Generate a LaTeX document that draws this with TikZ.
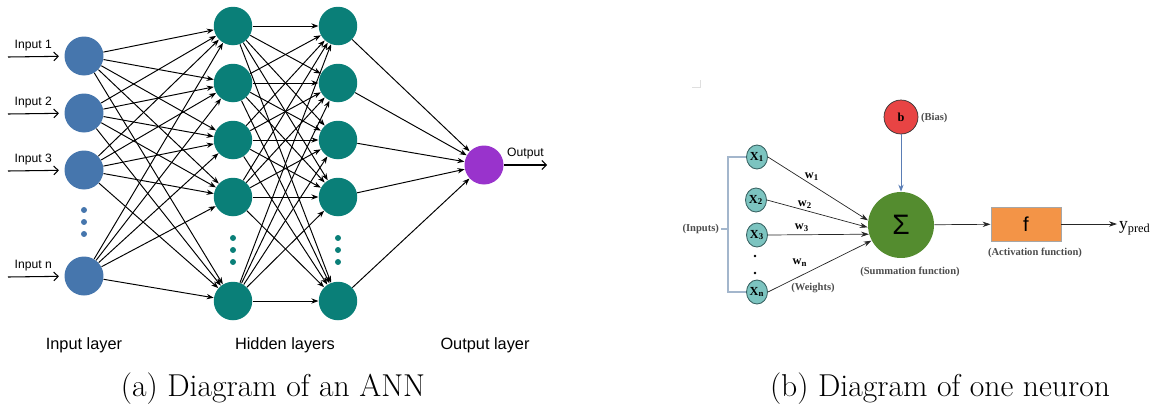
\documentclass[tikz,border=0pt]{standalone}
\usepackage{fontspec}
\newfontfamily\arialf{Liberation Sans}
\newfontfamily\serifb{Liberation Serif}
\usetikzlibrary{positioning,arrows.meta,shapes.geometric}

\definecolor{inblue}{HTML}{4676AD}
\definecolor{hidteal}{HTML}{0A7F78}
\definecolor{outpurple}{HTML}{9933CC}
\definecolor{xteal}{HTML}{7CC4C0}
\definecolor{xborder}{HTML}{3A6464}
\definecolor{sumgreen}{HTML}{548C2F}
\definecolor{biasred}{HTML}{E84444}
\definecolor{actorange}{HTML}{F39447}
\definecolor{brkblue}{HTML}{A3B6CC}
\definecolor{biasline}{HTML}{5A7DB5}

\begin{document}
\begin{tikzpicture}[x=0.02cm, y=-0.02cm,
  lbl/.style={font=\arialf\fontsize{6.9}{8}\selectfont, inner sep=1pt},
  layerlbl/.style={font=\arialf\fontsize{9.3}{11}\selectfont, inner sep=1pt},
  inv/.style={circle, fill=inblue, minimum size=0.78cm, inner sep=0pt},
  hidv/.style={circle, fill=hidteal, minimum size=0.77cm, inner sep=0pt},
  outv/.style={circle, fill=outpurple, minimum size=0.78cm, inner sep=0pt},
  netedge/.style={draw=black, line width=0.55pt, -{Stealth[length=4pt,width=3pt]}},
  ioarrow/.style={draw=black, line width=0.6pt, -{Straight Barb[length=2.5pt,width=5pt]}},
  xv/.style={ellipse, draw=xborder, line width=0.5pt, fill=xteal, minimum width=0.42cm, minimum height=0.48cm, inner sep=0pt, font=\serifb\bfseries\fontsize{7}{8}\selectfont},
  sumv/.style={circle, fill=sumgreen, minimum size=1.32cm, inner sep=0pt, font=\arialf\fontsize{16}{18}\selectfont},
  biasv/.style={circle, draw=black!80, line width=0.4pt, fill=biasred, minimum size=0.68cm, inner sep=0pt, font=\serifb\bfseries\fontsize{7}{8}\selectfont},
  actbox/.style={rectangle, draw=black!35, line width=0.5pt, fill=actorange, minimum width=1.4cm, minimum height=0.68cm, inner sep=0pt, font=\arialf\fontsize{11.5}{13}\selectfont},
  warrow/.style={draw=black!85, line width=0.4pt, -{Stealth[length=4.5pt,width=3pt]}},
  bracket/.style={draw=brkblue, line width=0.6pt},
  nlbl/.style={font=\serifb\bfseries\fontsize{6}{7}\selectfont, text=black!70, inner sep=1pt},
  wlbl/.style={font=\serifb\bfseries\fontsize{7}{8}\selectfont, inner sep=1pt},
  capt/.style={font=\fontsize{18}{21}\selectfont, inner sep=0pt}
]
\useasboundingbox (0,0) rectangle (1150,403);

% --- (a) ANN: input layer ---
\node[inv] (in1) at (84,56) {};
\node[inv] (in2) at (84,113) {};
\node[inv] (in3) at (84,170) {};
\node[inv] (inn) at (84,276) {};
\foreach \y in {210,222,234} \fill[inblue] (84,\y) circle (1.7pt);

% --- hidden layers ---
\foreach \k/\y in {1/26,2/83,3/140,4/197,5/301} {
  \node[hidv] (ha\k) at (233,\y) {};
  \node[hidv] (hb\k) at (338,\y) {};
}
\foreach \y in {238,250,262} {
  \fill[hidteal] (233,\y) circle (1.7pt);
  \fill[hidteal] (338,\y) circle (1.7pt);
}

% --- output ---
\node[outv] (out) at (484,165) {};

% --- connections ---
\foreach \i in {1,2,3,n}
  \foreach \j in {1,...,5} \draw[netedge] (in\i) -- (ha\j);
\foreach \i in {1,...,5}
  \foreach \j in {1,...,5} \draw[netedge] (ha\i) -- (hb\j);
\foreach \i in {1,...,5} \draw[netedge] (hb\i) -- (out);

% --- input / output arrows ---
\coordinate (src1) at (8,57);
\coordinate (src2) at (8,114);
\coordinate (src3) at (8,171);
\coordinate (srcn) at (8,277);
\draw[ioarrow, shorten >=3pt] (src1) -- (in1) node[lbl, pos=.45, above=2pt] (lin1) {Input 1};
\draw[ioarrow, shorten >=3pt] (src2) -- (in2) node[lbl, pos=.45, above=2pt] (lin2) {Input 2};
\draw[ioarrow, shorten >=3pt] (src3) -- (in3) node[lbl, pos=.45, above=2pt] (lin3) {Input 3};
\draw[ioarrow, shorten >=3pt] (srcn) -- (inn) node[lbl, pos=.45, above=2pt] (linn) {Input n};
\coordinate (dst) at (547,165);
\draw[ioarrow] (out) -- (dst) node[lbl, midway, above=2pt] (lout) {Output};

% --- layer labels ---
\node[layerlbl] (linput) at (84,345) {Input layer};
\node[layerlbl] (lhidden) at (285,345) {Hidden layers};
\node[layerlbl] (loutput) at (485,345) {Output layer};

% --- (b) one neuron ---
\draw[gray!25, line width=0.5pt] (692,87) -- (700,87) -- (700,80);

\node[xv] (x1) at (757,157) {X\textsubscript{1}};
\node[xv] (x2) at (756,200) {X\textsubscript{2}};
\node[xv] (x3) at (757,235) {X\textsubscript{3}};
\node[xv] (xn) at (757,292) {X\textsubscript{n}};
\foreach \y in {256,273} \fill[black] (755,\y) circle (0.8pt);

\node[sumv] (sum) at (901,225) {Σ};
\node[biasv] (b) at (901,117) {b};
\node[nlbl, anchor=west] (lbias) at (919,118) {(Bias)};
\node[actbox] (act) at (1026,224) {f};
\node[anchor=west, inner sep=1pt, font=\serifb\fontsize{10}{12}\selectfont] (ypred) at (1117,228) {y\textsubscript{pred}};

% --- inputs bracket ---
\node[nlbl, anchor=east] (linputs) at (721,229) {(Inputs)};
\coordinate (brk) at (728,229);
\draw[bracket] (x1.west) -| (brk) |- (xn.west);
\draw[bracket] (linputs.east) -- (brk);

% --- weighted inputs ---
\draw[warrow] (x1.east) -- (sum.172);
\draw[warrow] (x2.east) -- (sum.184);
\draw[warrow] (x3.east) -- (sum.196);
\draw[warrow] (xn.east) -- (sum.208);
\node[wlbl] (w1) at (812,177) {w\textsubscript{1}};
\node[wlbl] (w2) at (805,205) {w\textsubscript{2}};
\node[wlbl] (w3) at (802,228) {w\textsubscript{3}};
\node[wlbl] (wn) at (800,263) {w\textsubscript{n}};
\node[nlbl] (lweights) at (813,288) {(Weights)};

% --- bias, activation, output ---
\draw[draw=biasline, line width=0.5pt, -{Stealth[length=4pt,width=3pt]}] (b) -- (sum);
\draw[warrow] (sum) -- (act);
\draw[warrow] (act) -- (act.east -| ypred.west);
\node[nlbl] (lsum) at (910,272) {(Summation function)};
\node[nlbl] (lact) at (1035,253) {(Activation function)};

% --- captions ---
\node[capt] (capa) at (273,389) {(a) Diagram of an ANN};
\node[capt] (capb) at (940,389) {(b) Diagram of one neuron};

\end{tikzpicture}
\end{document}
